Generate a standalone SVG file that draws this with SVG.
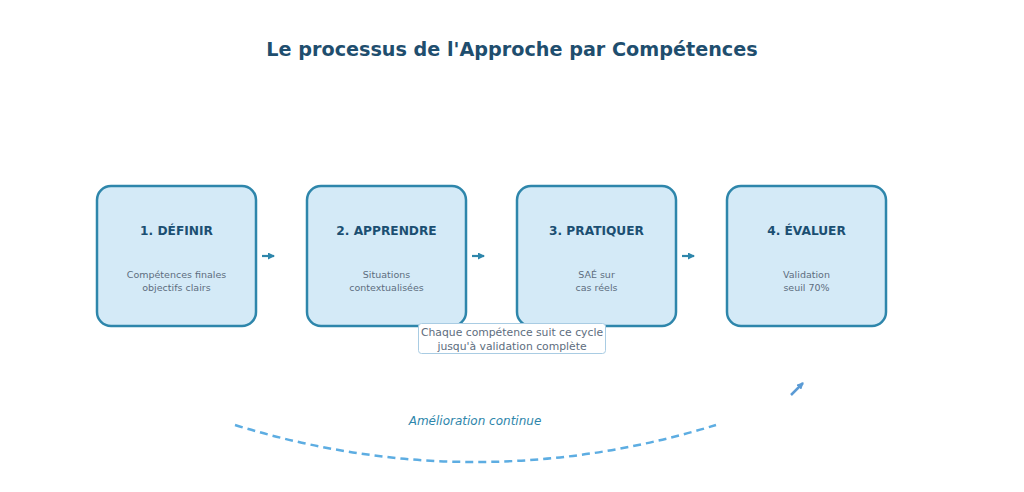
<svg xmlns="http://www.w3.org/2000/svg" width="1024" height="492" viewBox="0 0 1024 492">
<defs>
<style>
.box{fill:#d4eaf7;stroke:#2e86ab;stroke-width:2.5}
.t{font-family:"DejaVu Sans",sans-serif;font-weight:bold;font-size:12.2px;fill:#1b4f72;text-anchor:middle}
.d{font-family:"DejaVu Sans",sans-serif;font-size:9.5px;fill:#5d6d7e;text-anchor:middle}
.conn{stroke:#2e86ab;stroke-width:2.2;fill:none}
</style>
<marker id="ah" markerWidth="7" markerHeight="7" refX="6" refY="3.5" orient="auto" markerUnits="userSpaceOnUse">
<path d="M0,0 L7,3.5 L0,7 Z" fill="#2e86ab"/>
</marker>
<marker id="ah2" markerWidth="7" markerHeight="7" refX="6" refY="3.5" orient="auto" markerUnits="userSpaceOnUse">
<path d="M0,0 L7,3.5 L0,7 Z" fill="#5b9bd5"/>
</marker>
</defs>
<rect width="1024" height="492" fill="#ffffff"/>
<text x="512" y="56" font-family="DejaVu Sans,sans-serif" font-weight="bold" font-size="19.2" fill="#1f4e6e" text-anchor="middle">Le processus de l'Approche par Compétences</text>
<g id="node1">
<rect class="box" x="97" y="186" width="159" height="140" rx="14"/>
<text class="t" x="176.5" y="235">1. DÉFINIR</text>
<text class="d" x="176.5" y="278">Compétences finales</text>
<text class="d" x="176.5" y="291">objectifs clairs</text>
</g>
<g id="node2">
<rect class="box" x="307" y="186" width="159" height="140" rx="14"/>
<text class="t" x="386.5" y="235">2. APPRENDRE</text>
<text class="d" x="386.5" y="278">Situations</text>
<text class="d" x="386.5" y="291">contextualisées</text>
</g>
<g id="node3">
<rect class="box" x="517" y="186" width="159" height="140" rx="14"/>
<text class="t" x="596.5" y="235">3. PRATIQUER</text>
<text class="d" x="596.5" y="278">SAÉ sur</text>
<text class="d" x="596.5" y="291">cas réels</text>
</g>
<g id="node4">
<rect class="box" x="727" y="186" width="159" height="140" rx="14"/>
<text class="t" x="806.5" y="235">4. ÉVALUER</text>
<text class="d" x="806.5" y="278">Validation</text>
<text class="d" x="806.5" y="291">seuil 70%</text>
</g>
<g id="note">
<rect x="418.5" y="323.5" width="187" height="30" rx="3" fill="#ffffff" stroke="#a9cce3" stroke-width="1"/>
<text x="512" y="336" font-family="DejaVu Sans,sans-serif" font-size="10.8" fill="#5d6d7e" text-anchor="middle">Chaque compétence suit ce cycle</text>
<text x="512" y="350" font-family="DejaVu Sans,sans-serif" font-size="10.8" fill="#5d6d7e" text-anchor="middle">jusqu'à validation complète</text>
</g>
<g id="connectors">
<line class="conn" x1="262" y1="256" x2="274" y2="256" marker-end="url(#ah)"/>
<line class="conn" x1="472" y1="256" x2="484" y2="256" marker-end="url(#ah)"/>
<line class="conn" x1="682" y1="256" x2="694" y2="256" marker-end="url(#ah)"/>
<path d="M235,425 Q475,499 716,425" fill="none" stroke="#5dade2" stroke-width="2.5" stroke-dasharray="8,5"/>
<line x1="791" y1="395" x2="803" y2="383" stroke="#5b9bd5" stroke-width="2.5" marker-end="url(#ah2)"/>
</g>
<text x="475" y="425" font-family="DejaVu Sans,sans-serif" font-style="italic" font-size="12" fill="#2e86ab" text-anchor="middle">Amélioration continue</text>
</svg>
